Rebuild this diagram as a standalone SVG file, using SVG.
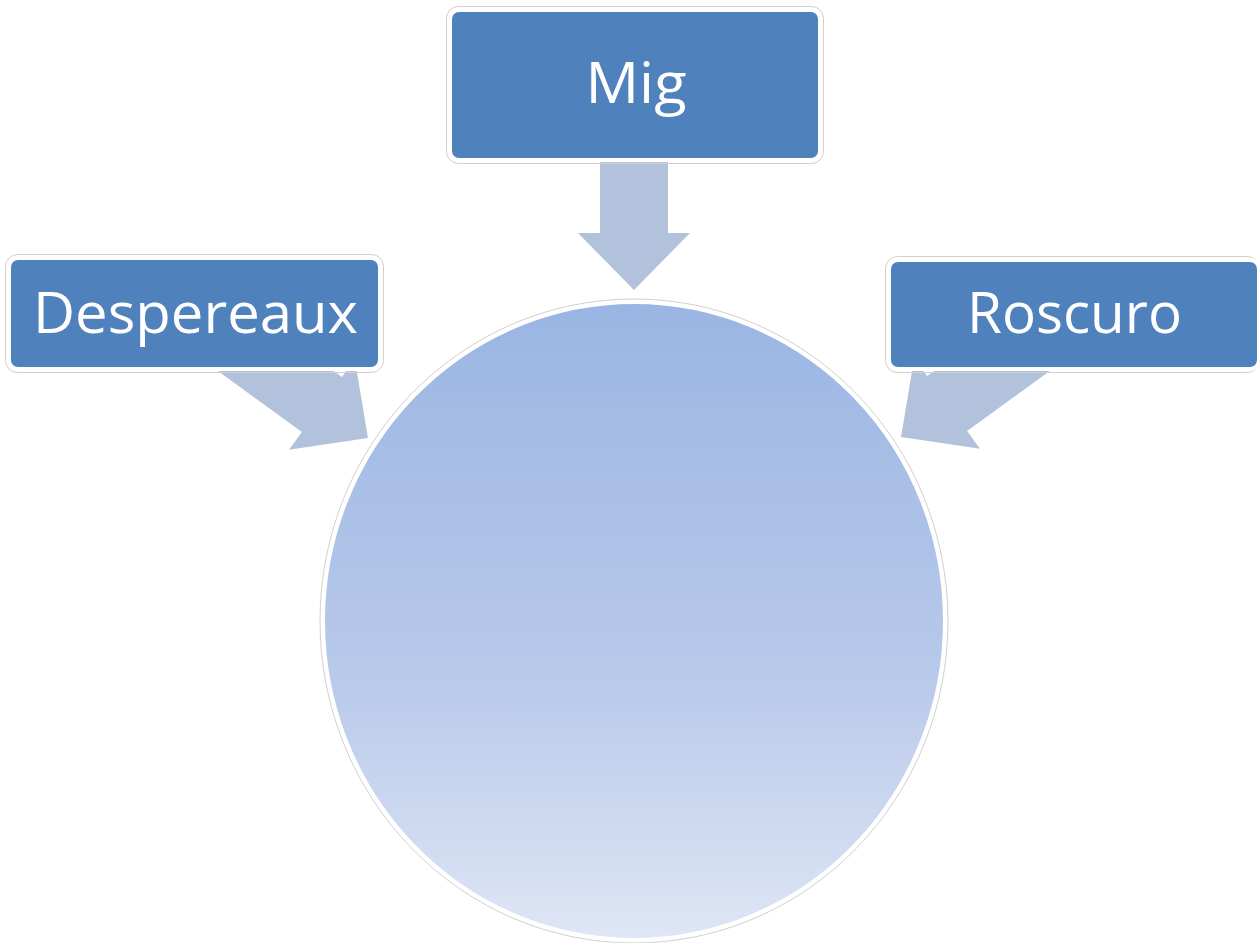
<svg xmlns="http://www.w3.org/2000/svg" width="1260" height="943" viewBox="0 0 1260 943">
<defs>
<linearGradient id="cg" x1="0" y1="0" x2="0" y2="1">
<stop offset="0" stop-color="#9AB5E3"/>
<stop offset="0.6" stop-color="#B9CAEA"/>
<stop offset="1" stop-color="#DFE6F5"/>
</linearGradient>
<polygon id="arr" points="-160,-34 -57,-34 -57,-56 0,0 -57,56 -57,34 -160,34"/>
<style>
.arrow{fill:#B2C2DC}
.box{fill:#4F81BD;stroke:#FFFFFF;stroke-width:4}
.boxo{fill:none;stroke:#D0D0D0;stroke-width:1}
.lbl{fill:#FFFFFF;font-family:"Open Sans","Noto Sans",sans-serif;font-size:57px;text-anchor:middle}
</style>
</defs>
<rect width="1260" height="943" fill="#FFFFFF"/>
<g id="connectors">
<polygon class="arrow" points="600,160 668,160 668,233 690,233 634,290 578,233 600,233"/>
<use href="#arr" class="arrow" transform="translate(368,438) rotate(36)"/>
<use href="#arr" class="arrow" transform="translate(901,437) rotate(144)"/>
</g>
<g id="node-mig">
<rect class="boxo" x="446.5" y="6.5" width="377" height="157" rx="12"/>
<rect class="box" x="450" y="10" width="370" height="150" rx="9"/>
<text class="lbl" x="636" y="103" textLength="101" lengthAdjust="spacingAndGlyphs">Mig</text>
</g>
<g id="node-despereaux">
<rect class="boxo" x="5.5" y="254.5" width="378" height="118" rx="12"/>
<rect class="box" x="9" y="258" width="371" height="111" rx="9"/>
<text class="lbl" x="195.5" y="333" textLength="325" lengthAdjust="spacingAndGlyphs">Despereaux</text>
</g>
<g id="node-roscuro">
<rect class="boxo" x="885.5" y="256.5" width="374" height="116" rx="12"/>
<rect class="box" x="889" y="260" width="370" height="109" rx="9"/>
<text class="lbl" x="1074.5" y="333" textLength="215" lengthAdjust="spacingAndGlyphs">Roscuro</text>
</g>
<g id="node-center">
<ellipse cx="634" cy="621" rx="314" ry="322" fill="none" stroke="#D0D0D0" stroke-width="1"/>
<ellipse cx="634" cy="621" rx="311" ry="319" fill="url(#cg)" stroke="#FFFFFF" stroke-width="4"/>
</g>
</svg>
